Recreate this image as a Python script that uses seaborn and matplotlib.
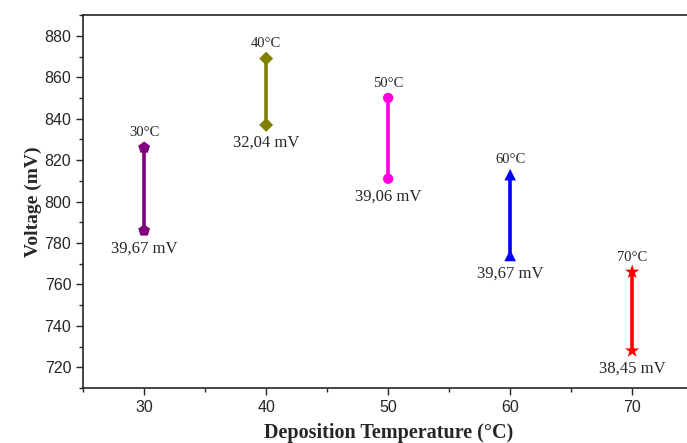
import pandas as pd
import seaborn as sns
import matplotlib.pyplot as plt
from matplotlib.ticker import MultipleLocator

# values
temps = [30, 40, 50, 60, 70]
v_high = [826, 869, 850, 813, 766]
v_low = [786, 837, 811, 774, 728]
temp_labels = ['30°C', '40°C', '50°C', '60°C', '70°C']
diff_labels = ['39,67 mV', '32,04 mV', '39,06 mV', '39,67 mV', '38,45 mV']
colors = ['#800080', '#808000', '#FF00E0', '#0000FF', '#FF0000']
markers = ['p', 'D', 'o', '^', '*']
marker_sizes = [80, 50, 55, 70, 120]

sns.set_style('ticks')
plt.rcParams['font.family'] = ['Liberation Sans', 'DejaVu Sans']

# long format table for seaborn
data = pd.DataFrame({
    'Temp': temps * 2,
    'Voltage': v_high + v_low,
    'Group': temp_labels * 2,
})

fig = plt.figure(figsize=(6.87, 4.43), dpi=100)
ax = fig.add_axes([0.121, 0.124, 0.888, 0.842])

# vertical bars between high and low
for t, hi, lo, c in zip(temps, v_high, v_low, colors):
    ax.plot([t, t], [lo, hi], color=c, lw=2.6, zorder=2)

sns.scatterplot(data=data, x='Temp', y='Voltage', hue='Group', style='Group',
                size='Group', sizes=dict(zip(temp_labels, marker_sizes)),
                palette=dict(zip(temp_labels, colors)),
                markers=dict(zip(temp_labels, markers)),
                edgecolor='none', legend=False, ax=ax, zorder=3)

# labels
for t, hi, lo, tl, dl in zip(temps, v_high, v_low, temp_labels, diff_labels):
    ax.annotate(tl, (t, hi), xytext=(0, 6), textcoords='offset points',
                ha='center', va='bottom', fontsize=10.5, family='Liberation Serif')
    ax.annotate(dl, (t, lo), xytext=(0, -7), textcoords='offset points',
                ha='center', va='top', fontsize=12, family='Liberation Serif')

ax.set_xlim(25, 75)
ax.set_ylim(710, 890)
ax.xaxis.set_major_locator(MultipleLocator(10))
ax.xaxis.set_minor_locator(MultipleLocator(5))
ax.yaxis.set_major_locator(MultipleLocator(20))
ax.yaxis.set_minor_locator(MultipleLocator(10))
ax.tick_params(axis='both', which='major', labelsize=11.5, length=5, width=1)
ax.tick_params(axis='both', which='minor', length=3, width=1)
ax.tick_params(right=True, which='both', direction='out')
for s in ax.spines.values():
    s.set_linewidth(1.2)

ax.set_xlabel('Deposition Temperature (°C)', fontsize=14.5, fontweight='bold',
              family='Liberation Serif', labelpad=6)
ax.set_ylabel('Voltage (mV)', fontsize=14, fontweight='bold',
              family='Liberation Serif', labelpad=2)

plt.savefig('out.png', dpi=100)
